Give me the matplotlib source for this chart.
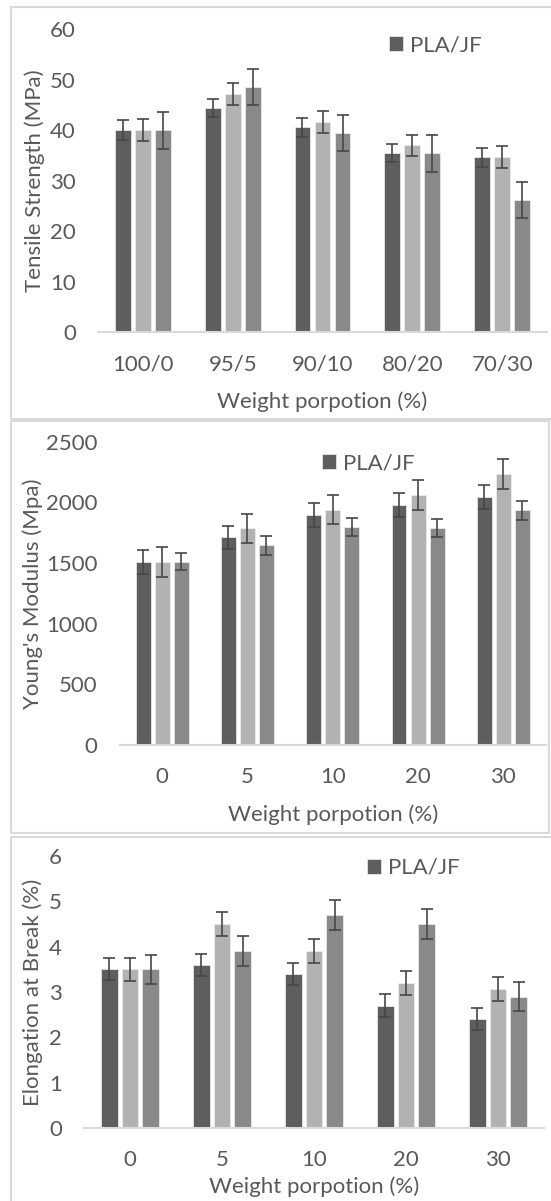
import matplotlib

matplotlib.use("Agg")
import matplotlib.pyplot as plt
import numpy as np
from matplotlib.patches import Rectangle

# ---- data ----
TS_LABELS = ["100/0", "95/5", "90/10", "80/20", "70/30"]
TS_A = [40.0, 44.4, 40.6, 35.4, 34.6]
TS_A_ERR = [2.0, 1.8, 1.9, 1.8, 1.8]
TS_B = [40.0, 47.1, 41.6, 37.0, 34.7]
TS_B_ERR = [2.2, 2.2, 2.2, 2.1, 2.1]
TS_C = [40.0, 48.5, 39.5, 35.4, 26.1]
TS_C_ERR = [3.7, 3.6, 3.6, 3.6, 3.6]

YM_LABELS = ["0", "5", "10", "20", "30"]
YM_A = [1510, 1714, 1893, 1981, 2044]
YM_A_ERR = [100, 95, 100, 100, 96]
YM_B = [1510, 1788, 1940, 2058, 2236]
YM_B_ERR = [125, 120, 120, 123, 123]
YM_C = [1510, 1645, 1794, 1786, 1934]
YM_C_ERR = [70, 75, 75, 75, 77]

EB_LABELS = ["0", "5", "10", "20", "30"]
EB_A = [3.5, 3.6, 3.4, 2.7, 2.4]
EB_A_ERR = [0.24, 0.24, 0.24, 0.25, 0.24]
EB_B = [3.5, 4.5, 3.9, 3.2, 3.06]
EB_B_ERR = [0.25, 0.26, 0.26, 0.26, 0.26]
EB_C = [3.5, 3.9, 4.7, 4.5, 2.9]
EB_C_ERR = [0.32, 0.33, 0.33, 0.33, 0.33]

W, H = 551, 1201
COLORS = ["#5e5e5e", "#b2b2b2", "#898989"]
TEXT = "#595959"
LINE = "#d9d9d9"
FS = 16

plt.rcParams["font.family"] = ["Lato", "DejaVu Sans"]
plt.rcParams["text.color"] = TEXT
plt.rcParams["axes.labelcolor"] = TEXT
plt.rcParams["xtick.color"] = TEXT
plt.rcParams["ytick.color"] = TEXT

fig = plt.figure(figsize=(W / 100, H / 100), dpi=100)


def px_axes(left, right, bottom, top):
    return fig.add_axes([left / W, 1 - bottom / H, (right - left) / W, (bottom - top) / H])


def panel(ax, labels, series, errs, ylim, ystep, ylabel, ylab_x, xlab_y, leg_xy, ax_px):
    left, right, bottom, top = ax_px
    x = np.arange(len(labels))
    for i, (vals, err) in enumerate(zip(series, errs)):
        ax.bar(
            x + (i - 1) * 0.223,
            vals,
            width=0.175,
            color=COLORS[i],
            edgecolor="#f0f0f0",
            linewidth=0.5,
            label="PLA/JF" if i == 0 else None,
            yerr=err,
            error_kw=dict(ecolor="#474747", elinewidth=1.2, capsize=4.5, capthick=1.2),
        )
    ax.set_xlim(-0.5, len(labels) - 0.5)
    ax.set_ylim(*ylim)
    ax.set_yticks(np.arange(ylim[0], ylim[1] + ystep / 2, ystep))
    ax.set_xticks(x)
    ax.set_xticklabels(labels)
    ax.tick_params(axis="both", length=0, labelsize=FS)
    ax.tick_params(axis="y", pad=16)
    ax.tick_params(axis="x", pad=16)
    for s in ["top", "right", "left"]:
        ax.spines[s].set_visible(False)
    ax.spines["bottom"].set_color(LINE)
    ax.spines["bottom"].set_linewidth(1.5)
    ax.set_ylabel(ylabel, fontsize=FS)
    ax.yaxis.set_label_coords((ylab_x - left) / (right - left), 0.5)
    ax.yaxis.label.set_va("center")
    ax.set_xlabel("Weight porpotion (%)", fontsize=FS)
    ax.xaxis.set_label_coords(0.5, (bottom - xlab_y) / (bottom - top))
    ax.xaxis.label.set_va("center")
    ax.legend(
        loc="center left",
        bbox_to_anchor=(leg_xy[0] / W, 1 - leg_xy[1] / H),
        bbox_transform=fig.transFigure,
        frameon=False,
        fontsize=FS,
        handlelength=0.65,
        handleheight=0.65,
        handletextpad=0.3,
        borderpad=0,
        borderaxespad=0,
    )


# panel frames
for (x0, y0, x1, y1) in [(11, 7, 580, 419), (11, 421, 549, 833), (11, 837, 580, 1230)]:
    fig.add_artist(
        Rectangle(
            (x0 / W, 1 - y1 / H),
            (x1 - x0) / W,
            (y1 - y0) / H,
            transform=fig.transFigure,
            fill=False,
            edgecolor=LINE,
            linewidth=1.5,
        )
    )

p1 = (98, 547, 332, 29.3)
ax1 = px_axes(*p1)
panel(ax1, TS_LABELS, [TS_A, TS_B, TS_C], [TS_A_ERR, TS_B_ERR, TS_C_ERR],
      (0, 60), 10, "Tensile Strength (MPa)", 35, 402, (389, 45), p1)

p2 = (119.5, 546, 745, 441.7)
ax2 = px_axes(*p2)
panel(ax2, YM_LABELS, [YM_A, YM_B, YM_C], [YM_A_ERR, YM_B_ERR, YM_C_ERR],
      (0, 2500), 500, "Young's Modulus (Mpa)", 33, 815, (321.5, 463), p2)

p3 = (84, 544, 1128, 856)
ax3 = px_axes(*p3)
panel(ax3, EB_LABELS, [EB_A, EB_B, EB_C], [EB_A_ERR, EB_B_ERR, EB_C_ERR],
      (0, 6), 1, "Elongation at Break (%)", 33, 1187, (367, 868), p3)

fig.savefig("out.png", dpi=100)
